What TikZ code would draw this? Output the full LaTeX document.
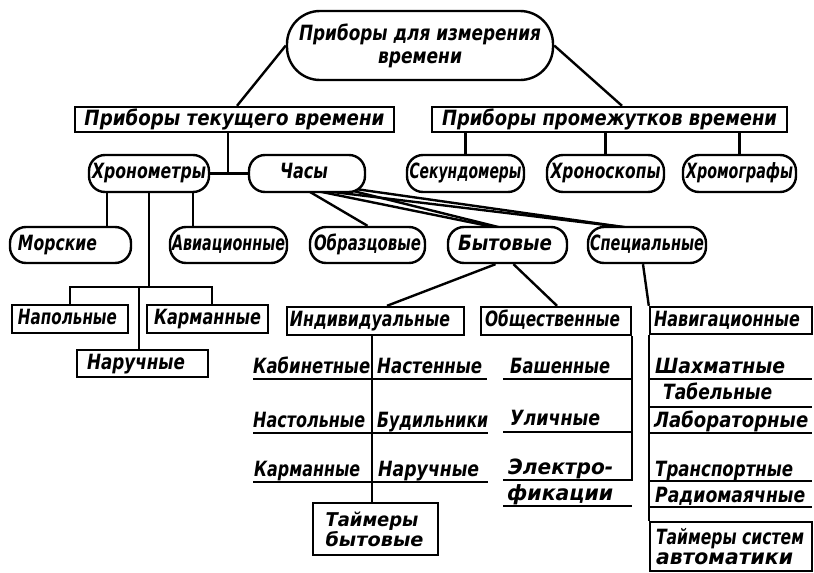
\documentclass[tikz,border=0pt]{standalone}
\usepackage{fontspec}
\usepackage{graphicx}
\setmainfont{DejaVu Sans}
\usetikzlibrary{backgrounds}
\newcommand{\fw}[2]{\resizebox{#1pt}{\height}{#2}}
\tikzset{
  pill/.style={draw, line width=2.4pt, rounded corners=16pt, fill=white, inner sep=0pt,
    minimum height=37pt, text height=15pt, text depth=5pt},
  box/.style={draw, line width=2.4pt, fill=white, inner sep=0pt, text height=15pt, text depth=4pt},
  lbl/.style={anchor=base west, inner sep=0pt},
  conn/.style={line width=2.4pt},
  uline/.style={line width=2.6pt},
}
\begin{document}
\begin{tikzpicture}[x=1pt, y=-1pt, font=\fontsize{21}{23}\selectfont\bfseries\itshape]
\useasboundingbox (0,0) rectangle (814,573);

% level 0
\node[pill, rounded corners=33pt, minimum width=266pt, minimum height=69pt, align=center, text height=, text depth=] (top) at (420,45.5)
  {\fw{242}{Приборы для измерения}\\[0pt]\fw{84}{времени}};

% level 1
\node[box, minimum width=319pt, minimum height=25pt] (tek) at (234.5,119.5) {\fw{300}{Приборы текущего времени}};
\node[box, minimum width=355pt, minimum height=25pt] (prom) at (609.5,119.5) {\fw{335}{Приборы промежутков времени}};

% level 2
\node[pill, minimum width=120pt] (hron) at (149,173.5) {\fw{114}{Хронометры}};
\node[pill, minimum width=116pt] (chasy) at (307,173.5) {\fw{48}{Часы}\hspace*{6pt}};
\node[pill, minimum width=117pt] (sek) at (465.5,173.5) {\fw{112}{Секундомеры}};
\node[pill, minimum width=117pt] (hrsk) at (605.5,173.5) {\fw{110}{Хроноскопы}};
\node[pill, minimum width=113pt] (hrgr) at (739.5,173.5) {\fw{107}{Хромографы}};

% level 3
\node[pill, minimum width=121pt, minimum height=36pt] (mor) at (70.5,245) {\fw{79}{Морские}\hspace*{26pt}};
\node[pill, minimum width=117pt, minimum height=36pt] (avia) at (228.5,245) {\fw{113}{Авиационные}};
\node[pill, minimum width=115pt, minimum height=36pt] (obr) at (367.5,245) {\fw{107}{Образцовые}};
\node[pill, minimum width=119pt, minimum height=36pt] (byt) at (507.5,245) {\fw{94}{Бытовые}\hspace*{5pt}};
\node[pill, minimum width=118pt, minimum height=36pt] (spec) at (647,245) {\fw{114}{Специальные}};

% level 4
\node[box, minimum width=116pt, minimum height=28pt] (napol) at (70,319) {\fw{99}{Напольные}\hspace*{5pt}};
\node[box, minimum width=121pt, minimum height=28pt] (karm) at (207.5,319) {\fw{107}{Карманные}};
\node[box, minimum width=131pt, minimum height=27pt] (naruch) at (142.5,363.5) {\fw{98}{Наручные}\hspace*{13pt}};
\node[box, minimum width=177pt, minimum height=28pt] (indiv) at (375.5,321) {\fw{160}{Индивидуальные}\hspace*{11pt}};
\node[box, minimum width=150pt, minimum height=28pt] (obsch) at (556,321) {\fw{135}{Общественные}\hspace*{7pt}};
\node[box, minimum width=162pt, minimum height=27pt] (navig) at (731,320.5) {\fw{146}{Навигационные}\hspace*{8pt}};

% individual list
\node[lbl] (l1) at (253,373) {\fw{117}{Кабинетные}};
\node[lbl] (l2) at (377,373) {\fw{105}{Настенные}};
\node[lbl] (l3) at (253,427) {\fw{112}{Настольные}};
\node[lbl] (l4) at (377,427) {\fw{111}{Будильники}};
\node[lbl] (l5) at (254,476) {\fw{106}{Карманные}};
\node[lbl] (l6) at (378,476) {\fw{101}{Наручные}};
\node[box, minimum width=125pt, minimum height=52pt, align=left, text height=, text depth=, font=\fontsize{19}{21}\selectfont\bfseries\itshape] (tb) at (375.5,529)
  {\makebox[100pt][l]{\fw{93}{Таймеры}}\\[-1pt]\makebox[100pt][l]{\fw{98}{бытовые}}};

% public list
\node[lbl] (o1) at (510,373) {\fw{100}{Башенные}};
\node[lbl] (o2) at (510,425) {\fw{90}{Уличные}};
\node[lbl] (o3) at (508,474) {\fw{105}{Электро-}};
\node[lbl] (o4) at (507,500) {\fw{106}{фикации}};

% special list
\node[lbl] (s1) at (655,373) {\fw{130}{Шахматные}};
\node[lbl] (s2) at (663,399) {\fw{109}{Табельные}};
\node[lbl] (s3) at (654,427) {\fw{154}{Лабораторные}};
\node[lbl] (s4) at (655,476) {\fw{138}{Транспортные}};
\node[lbl] (s5) at (655,502) {\fw{150}{Радиомаячные}};
\node[box, minimum width=162pt, minimum height=49pt, align=left, text height=, text depth=] (ts) at (731,546.5)
  {\makebox[150pt][l]{\fw{148}{Таймеры систем}}\\[-3pt]\makebox[150pt][l]{\fw{137}{автоматики}}};

\coordinate (j1) at (228,173.5);
\coordinate (jb) at (149,287);

\begin{scope}[on background layer]
  \draw[conn] (top.west) -- ([xshift=2.5pt]tek.north);
  \draw[conn] (top.east) -- ([xshift=12.5pt]prom.north);
  \draw[conn] ([xshift=-6.5pt]tek.south) -- (j1);
  \draw[conn] (hron.east) -- (chasy.west);
  \foreach \n in {sek,hrsk,hrgr} \draw[conn] (\n.north |- prom.south) -- (\n.north);
  \draw[conn] ([xshift=-42pt]hron.south) -- ([xshift=-42pt]hron.south |- mor.north);
  \draw[conn] ([xshift=44pt]hron.south) -- ([xshift=44pt]hron.south |- avia.north);
  \draw[conn] (hron.south) -- (jb);
  \draw[conn] (napol.north) -- (napol.north |- jb) -- ([xshift=4.5pt]karm.north |- jb) -- ([xshift=4.5pt]karm.north);
  \draw[conn] ([xshift=-3.5pt]naruch.north) -- ([xshift=-3.5pt]naruch.north |- jb);
  % from Chasy
  \draw[conn] ([yshift=3pt]chasy.south) -- (obr.north);
  \draw[conn] ([xshift=6pt,yshift=3pt]chasy.south) -- ([xshift=-10pt,yshift=-2pt]byt.north);
  \draw[conn] ([xshift=43pt,yshift=3pt]chasy.south) -- ([xshift=-6pt,yshift=-2pt]byt.north);
  \draw[conn] ([xshift=11pt,yshift=3pt]chasy.south) -- ([xshift=-18pt,yshift=-2pt]spec.north);
  \draw[conn] ([xshift=50pt,yshift=4pt]chasy.south) -- ([xshift=-18pt,yshift=-2pt]spec.north);
  % from Bytovye / Specialnye
  \draw[conn] ([xshift=-12pt]byt.south) -- ([xshift=11.5pt]indiv.north);
  \draw[conn] ([xshift=6pt]byt.south) -- ([xshift=1pt]obsch.north);
  \draw[conn] ([xshift=-4pt]spec.south) -- (navig.north west);
  % spines
  \draw[conn] ([xshift=-3.5pt]indiv.south) -- ([xshift=-3.5pt]indiv.south |- tb.north);
  \draw[conn] (obsch.south east) -- ++(0,145);
  \draw[conn] (navig.south west) -- (ts.north west);
\end{scope}

% underlines
\draw[uline] (253,379) -- (487,379);
\draw[uline] (253,433) -- (488,433);
\draw[uline] (253,482) -- (488,482);
\foreach \y in {379,432,480} \draw[uline] (503,\y) -- (631,\y);
\draw[uline] (503,506) -- (632,506);
\foreach \y in {379,407,433,481,507} \draw[uline] (650,\y) -- (812,\y);
\end{tikzpicture}
\end{document}
